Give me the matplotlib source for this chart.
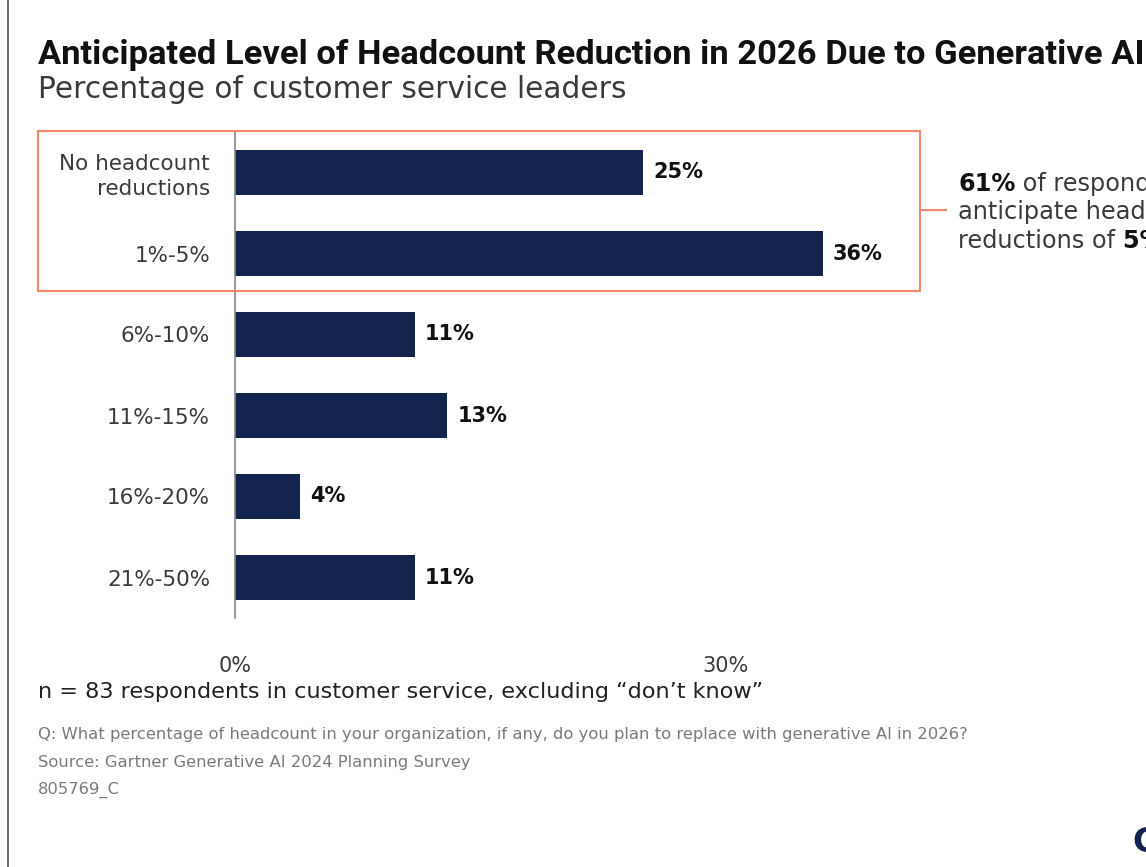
import matplotlib
matplotlib.use("Agg")
import matplotlib.pyplot as plt
from matplotlib.patches import Rectangle
from matplotlib.lines import Line2D

categories = ["No headcount\nreductions", "1%-5%", "6%-10%", "11%-15%", "16%-20%", "21%-50%"]
values = [25, 36, 11, 13, 4, 11]
xticks = [0, 30]
xtick_labels = ["0%", "30%"]
callout = [[("61%", "bold"), (" of respondents", "normal")],
           [("anticipate headcount", "normal")],
           [("reductions of ", "normal"), ("5% or less", "bold")]]

NAVY = "#13244f"
ORANGE = "#f2876a"
BODY = "DejaVu Sans"

W, H = 1146, 867
fig = plt.figure(figsize=(W / 100, H / 100), dpi=100)


def fx(px):
    return px / W


def fy(py):
    return 1 - py / H


# axes: 0% sits at x=235, 30% at x=725
ppu = (725 - 235) / 30
ax = fig.add_axes([fx(235), fy(618), 1 - fx(235), fy(132) - fy(618)])
y = list(range(len(categories)))
ax.barh(y, values, height=0.56, color=NAVY)
ax.set_xlim(0, (W - 235) / ppu)
ax.set_ylim(len(categories) - 0.5, -0.5)
for yi, v in zip(y, values):
    ax.text(v + 10 / ppu, yi, f"{v}%", va="center", ha="left", fontsize=15,
            fontweight="bold", color="#111111", family=BODY)
ax.set_yticks(y)
ax.set_yticklabels(categories, fontsize=15.5, color="#3a3a3a", family=BODY, linespacing=1.3)
ax.set_xticks(xticks)
ax.set_xticklabels(xtick_labels, fontsize=15, color="#3a3a3a", family=BODY)
ax.tick_params(axis="y", length=0, pad=18)
ax.tick_params(axis="x", length=0, pad=27)
for s in ["top", "right", "bottom"]:
    ax.spines[s].set_visible(False)
ax.spines["left"].set_color("#888888")
ax.spines["left"].set_linewidth(1.2)

# left page rule
fig.add_artist(Line2D([fx(8), fx(8)], [0, 1], color="#555555", lw=1.2))

# titles
fig.text(fx(38), fy(55), "Anticipated Level of Headcount Reduction in 2026 Due to Generative AI",
         fontsize=24.8, fontweight="bold", family="Roboto", color="#111111",
         va="center", ha="left")
fig.text(fx(38), fy(90), "Percentage of customer service leaders", fontsize=21.3,
         family=BODY, color="#3a3a3a", va="center", ha="left")

# highlight box + connector
fig.add_artist(Rectangle((fx(38), fy(291)), fx(920) - fx(38), fy(131) - fy(291),
                         fill=False, edgecolor=ORANGE, lw=1.5))
fig.add_artist(Line2D([fx(920), fx(946)], [fy(210), fy(210)], color=ORANGE, lw=1.5))

# callout text, mixed weights laid out piece by piece
fig.canvas.draw()
renderer = fig.canvas.get_renderer()
for i, parts in enumerate(callout):
    xcur = 958
    for txt, wt in parts:
        t = fig.text(fx(xcur), fy(184 + i * 28.5), txt, fontsize=17.3, fontweight=wt,
                     family=BODY, color="#111111" if wt == "bold" else "#3a3a3a",
                     va="center", ha="left")
        xcur = t.get_window_extent(renderer).x1

# footnotes
fig.text(fx(38), fy(692), "n = 83 respondents in customer service, excluding \u201cdon\u2019t know\u201d",
         fontsize=16.1, family=BODY, color="#222222", va="center", ha="left")
foot = ["Q: What percentage of headcount in your organization, if any, do you plan to replace with generative AI in 2026?",
        "Source: Gartner Generative AI 2024 Planning Survey",
        "805769_C"]
for i, s in enumerate(foot):
    fig.text(fx(38), fy(734 + i * 28), s, fontsize=11.8, family=BODY, color="#7a7a7a",
             va="center", ha="left")

# partial logo at the cropped edge
fig.text(fx(1132), fy(842), "G", fontsize=24, fontweight="bold", family=BODY,
         color=NAVY, va="center", ha="left")

fig.savefig("out.png", dpi=100)
